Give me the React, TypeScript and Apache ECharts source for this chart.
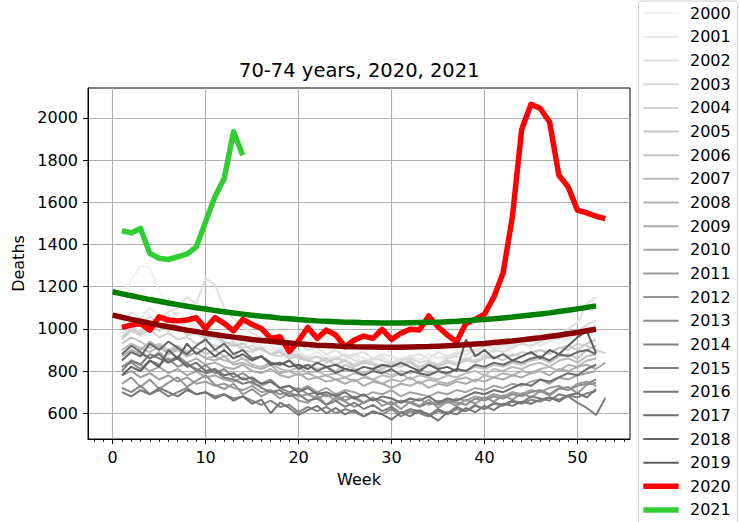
import React, { useEffect, useRef } from 'react';
import * as echarts from 'echarts';

const FONT = "'DejaVu Sans', 'Liberation Sans', sans-serif";
const TITLE = '70-74 years, 2020, 2021';
const X_NAME = 'Week';
const Y_NAME = 'Deaths';
const X_TICKS = [0, 10, 20, 30, 40, 50];
const Y_TICKS = [600, 800, 1000, 1200, 1400, 1600, 1800, 2000];

const GREY_YEARS = ['2000', '2001', '2002', '2003', '2004', '2005', '2006', '2007', '2008', '2009',
  '2010', '2011', '2012', '2013', '2014', '2015', '2016', '2017', '2018', '2019'];
const GREY_COLORS = ['#f0f0f0', '#e8e8e8', '#e0e0e0', '#d9d9d9', '#d1d1d1', '#c9c9c9', '#c2c2c2', '#bababa',
  '#b2b2b2', '#ababab', '#a3a3a3', '#9b9b9b', '#949494', '#8c8c8c', '#848484', '#7d7d7d', '#757575',
  '#6d6d6d', '#666666', '#5e5e5e'];
const YEAR_2020 = '2020';
const YEAR_2021 = '2021';
const COLOR_2020 = '#ff0000';
const COLOR_2021 = '#32cd32';

const Y2000 = [1150, 1230, 1300, 1290, 1180, 1100, 1060, 1030, 1010, 990, 980, 960, 950, 970, 930, 920, 900, 910, 880, 890, 870, 860, 880, 850, 860, 870, 840, 850, 860, 830, 850, 840, 860, 850, 870, 860, 880, 870, 900, 890, 910, 900, 920, 930, 910, 940, 950, 930, 960, 980, 1000, 1020];
const Y2001 = [1020, 1080, 1050, 1100, 1060, 1040, 1010, 1030, 980, 1000, 960, 950, 970, 930, 940, 910, 920, 890, 900, 880, 870, 890, 860, 870, 850, 880, 860, 850, 870, 840, 860, 870, 850, 880, 860, 870, 890, 880, 900, 910, 890, 920, 910, 930, 950, 920, 940, 960, 950, 980, 1010, 990];
const Y2002 = [980, 1010, 990, 1030, 1050, 1080, 1100, 1150, 1120, 1240, 1210, 1100, 1050, 1010, 980, 960, 940, 950, 920, 930, 900, 910, 880, 900, 870, 880, 890, 860, 880, 870, 850, 870, 880, 860, 890, 870, 880, 900, 890, 920, 910, 930, 920, 950, 940, 960, 980, 970, 1000, 1030, 1120, 1150];
const Y2003 = [1000, 1040, 1010, 1060, 1020, 990, 1010, 970, 980, 950, 960, 930, 940, 910, 920, 900, 880, 900, 870, 880, 860, 870, 850, 860, 880, 850, 840, 860, 850, 830, 850, 860, 840, 850, 830, 860, 870, 850, 880, 870, 900, 890, 910, 930, 920, 940, 960, 950, 980, 990, 1020, 1040];
const Y2004 = [950, 990, 970, 1000, 960, 980, 950, 960, 930, 940, 920, 910, 930, 900, 890, 910, 880, 870, 890, 860, 850, 870, 840, 860, 850, 830, 850, 840, 820, 840, 830, 850, 820, 840, 830, 850, 840, 860, 850, 870, 860, 880, 870, 890, 880, 900, 890, 910, 900, 930, 920, 900, 885];
const Y2005 = [960, 1000, 980, 1020, 990, 1040, 1010, 980, 1000, 960, 970, 940, 920, 930, 900, 910, 880, 890, 860, 870, 850, 840, 860, 830, 850, 820, 840, 830, 810, 830, 820, 840, 810, 830, 820, 840, 830, 850, 840, 860, 870, 850, 880, 870, 890, 900, 880, 910, 920, 900, 930, 950];
const Y2006 = [930, 960, 940, 910, 930, 900, 920, 890, 910, 880, 900, 870, 880, 860, 850, 870, 840, 830, 850, 820, 830, 810, 820, 800, 830, 810, 790, 810, 800, 780, 800, 790, 810, 790, 800, 780, 810, 800, 820, 810, 830, 820, 840, 830, 850, 860, 840, 870, 880, 860, 900, 920];
const Y2007 = [900, 930, 910, 890, 920, 880, 900, 870, 890, 860, 870, 850, 840, 860, 830, 820, 840, 810, 800, 820, 790, 800, 780, 790, 770, 790, 780, 760, 780, 770, 790, 760, 780, 770, 760, 780, 770, 790, 800, 780, 810, 800, 820, 810, 830, 840, 820, 850, 860, 840, 870, 880];
const Y2008 = [880, 920, 900, 940, 910, 890, 910, 870, 890, 860, 850, 870, 830, 840, 820, 810, 830, 790, 800, 780, 790, 770, 780, 760, 770, 750, 770, 760, 740, 760, 750, 770, 740, 760, 750, 740, 760, 770, 750, 780, 770, 790, 780, 800, 790, 810, 820, 800, 830, 820, 850, 860];
const Y2009 = [870, 900, 880, 860, 890, 850, 870, 840, 860, 830, 840, 820, 810, 830, 800, 790, 810, 780, 770, 790, 760, 770, 750, 760, 740, 760, 730, 750, 740, 720, 740, 730, 750, 720, 740, 730, 750, 740, 760, 750, 770, 760, 780, 770, 790, 800, 780, 810, 800, 820, 830, 810, 840];
const Y2010 = [820, 850, 830, 800, 820, 790, 810, 780, 800, 770, 780, 760, 750, 770, 740, 730, 750, 720, 730, 710, 730, 700, 720, 690, 710, 700, 680, 700, 690, 710, 680, 700, 690, 680, 700, 690, 710, 700, 720, 710, 730, 720, 740, 730, 750, 760, 740, 770, 760, 780, 790, 800];
const Y2011 = [780, 800, 770, 790, 760, 780, 750, 770, 740, 750, 730, 740, 720, 710, 730, 700, 710, 690, 700, 680, 690, 670, 690, 660, 680, 670, 650, 670, 660, 640, 660, 650, 670, 640, 660, 650, 670, 660, 680, 670, 690, 680, 700, 690, 710, 700, 720, 730, 710, 740, 750, 730];
const Y2012 = [740, 770, 725, 760, 715, 745, 770, 725, 755, 780, 735, 715, 740, 690, 715, 680, 705, 670, 695, 660, 650, 685, 640, 675, 655, 630, 650, 675, 635, 655, 620, 655, 635, 665, 625, 655, 635, 665, 645, 675, 655, 685, 665, 695, 675, 705, 685, 715, 725, 695, 735, 745];
const Y2013 = [820, 840, 810, 850, 830, 860, 820, 840, 800, 830, 790, 810, 770, 790, 760, 740, 760, 720, 700, 720, 690, 700, 680, 690, 660, 680, 650, 670, 660, 640, 660, 650, 630, 650, 640, 660, 650, 640, 670, 660, 680, 670, 690, 680, 700, 710, 690, 720, 710, 730, 740, 760];
const Y2014 = [720, 700, 730, 690, 710, 680, 700, 720, 690, 700, 680, 690, 670, 680, 660, 640, 660, 630, 640, 605, 630, 610, 630, 600, 620, 605, 585, 610, 595, 620, 585, 610, 600, 585, 610, 595, 620, 610, 635, 620, 645, 635, 655, 645, 665, 655, 675, 665, 685, 675, 695, 705];
const Y2015 = [800, 850, 830, 880, 860, 840, 870, 830, 810, 790, 800, 770, 760, 740, 750, 720, 700, 710, 680, 690, 660, 670, 640, 660, 630, 650, 620, 640, 610, 630, 600, 620, 610, 590, 620, 600, 630, 610, 640, 620, 650, 640, 660, 650, 680, 670, 660, 690, 680, 650, 625, 592, 672];
const Y2016 = [700, 680, 710, 690, 720, 700, 680, 710, 690, 700, 670, 690, 660, 680, 645, 665, 600, 650, 625, 592, 615, 635, 600, 625, 595, 615, 585, 605, 595, 570, 605, 585, 615, 595, 565, 605, 595, 625, 605, 635, 615, 645, 635, 655, 645, 665, 675, 655, 685, 695, 675, 715];
const Y2017 = [880, 920, 890, 860, 880, 840, 860, 820, 840, 800, 810, 780, 790, 760, 770, 740, 750, 720, 730, 700, 720, 690, 700, 680, 700, 670, 690, 660, 680, 670, 650, 670, 660, 680, 650, 670, 660, 680, 700, 690, 710, 700, 720, 740, 730, 760, 750, 770, 790, 780, 810, 830];
const Y2018 = [850, 890, 870, 930, 900, 940, 910, 880, 920, 950, 900, 930, 880, 900, 860, 870, 840, 830, 850, 810, 830, 800, 820, 790, 810, 800, 780, 800, 790, 810, 780, 800, 790, 780, 800, 790, 810, 800, 830, 820, 840, 830, 850, 840, 860, 870, 850, 880, 870, 890, 900, 880];
const Y2019 = [780, 820, 800, 850, 820, 900, 860, 930, 880, 910, 870, 900, 860, 880, 850, 870, 830, 840, 820, 830, 810, 840, 820, 830, 810, 800, 820, 810, 830, 820, 840, 820, 800, 830, 810, 820, 800, 950, 870, 900, 860, 880, 850, 870, 890, 860, 900, 880, 920, 960, 990, 885];

const Y2020 = [1007, 1018, 1026, 994, 1057, 1042, 1038, 1042, 1053, 1002, 1053, 1026, 991, 1045, 1021, 1002, 955, 963, 892, 944, 1007, 955, 994, 971, 915, 947, 966, 955, 998, 950, 979, 998, 995, 1061, 1010, 971, 939, 1026, 1045, 1070, 1150, 1265, 1531, 1945, 2065, 2045, 1981, 1729, 1673, 1563, 1550, 1534, 1523];
const Y2021 = [1465, 1455, 1476, 1358, 1335, 1329, 1342, 1354, 1389, 1508, 1626, 1713, 1934, 1823];

// Baseline curves, weeks 0..52
const TREND_GREEN = [1176, 1166, 1157, 1148, 1139, 1131, 1123, 1115, 1107, 1100, 1094, 1087, 1081, 1075, 1070, 1065, 1060, 1056, 1051, 1048, 1044, 1041, 1038, 1036, 1034, 1032, 1031, 1029, 1029, 1028, 1028, 1028, 1029, 1030, 1031, 1032, 1034, 1036, 1039, 1042, 1045, 1048, 1052, 1056, 1061, 1066, 1071, 1076, 1082, 1088, 1095, 1102, 1109];
const TREND_DARKRED = [1065, 1055, 1045, 1036, 1027, 1018, 1010, 1002, 994, 987, 980, 973, 967, 961, 956, 950, 945, 941, 937, 933, 929, 926, 923, 921, 919, 917, 915, 914, 914, 913, 913, 913, 914, 915, 916, 918, 920, 922, 925, 928, 931, 935, 939, 943, 948, 953, 958, 964, 970, 977, 983, 991, 998];

const GREY_VALUES = [Y2000, Y2001, Y2002, Y2003, Y2004, Y2005, Y2006, Y2007, Y2008, Y2009,
  Y2010, Y2011, Y2012, Y2013, Y2014, Y2015, Y2016, Y2017, Y2018, Y2019];

const toPoints = (vals: number[], start: number) => vals.map((v, i) => [i + start, v]);

const X_MIN = -2.65;
const X_MAX = 55.65;
const MINOR_TICKS: number[] = [];
for (let w = -2; w <= 55; w++) MINOR_TICKS.push(w);

function buildLegend() {
  const entries = [
    ...GREY_YEARS.map((y, i) => ({ name: y, color: GREY_COLORS[i], width: 2 })),
    { name: YEAR_2020, color: COLOR_2020, width: 5.5 },
    { name: YEAR_2021, color: COLOR_2021, width: 5.5 },
  ];
  const left = 638.5;
  const top = 1;
  const first = 13.3;
  const step = 23.65;
  const children: any[] = [
    {
      type: 'rect',
      shape: { x: left, y: top, width: 99, height: 540, r: 3 },
      style: { fill: 'rgba(255,255,255,0.8)', stroke: '#cccccc', lineWidth: 1 },
    },
  ];
  entries.forEach((e, i) => {
    const yc = first + step * i;
    children.push({
      type: 'line',
      shape: { x1: 643.3, y1: yc, x2: 678.7, y2: yc },
      style: { stroke: e.color, lineWidth: e.width },
    });
    children.push({
      type: 'text',
      x: 690,
      y: yc,
      style: { text: e.name, font: `16px ${FONT}`, fill: '#000', align: 'left', verticalAlign: 'middle' },
    });
  });
  return [{ type: 'group', children }];
}

export default function App() {
  const ref = useRef<HTMLDivElement>(null);
  useEffect(() => {
    if (!ref.current) return;
    const chart = echarts.init(ref.current, null, { renderer: 'svg' });
    const series: any[] = GREY_VALUES.map((vals, i) => ({
      name: GREY_YEARS[i],
      type: 'line',
      data: toPoints(vals, 1),
      symbol: 'none',
      color: GREY_COLORS[i],
      lineStyle: { width: 2, color: GREY_COLORS[i] },
    }));
    series.push({
      name: YEAR_2020, type: 'line', data: toPoints(Y2020, 1), symbol: 'none', color: COLOR_2020,
      lineStyle: { width: 5.5, color: COLOR_2020, join: 'round' },
    });
    series.push({
      name: YEAR_2021, type: 'line', data: toPoints(Y2021, 1), symbol: 'none', color: COLOR_2021,
      lineStyle: { width: 5.5, color: COLOR_2021, join: 'round' },
    });
    series.push({
      name: 'Baseline A', type: 'line', data: toPoints(TREND_GREEN, 0), symbol: 'none', color: '#008000',
      lineStyle: { width: 5.5, color: '#008000' },
    });
    series.push({
      name: 'Baseline B', type: 'line', data: toPoints(TREND_DARKRED, 0), symbol: 'none', color: '#8b0000',
      lineStyle: { width: 5.5, color: '#8b0000' },
    });

    chart.setOption({
      animation: false,
      backgroundColor: '#ffffff',
      title: {
        text: TITLE,
        left: 239,
        top: 60,
        padding: 0,
        textStyle: { fontFamily: FONT, fontSize: 19.5, fontWeight: 'normal', color: '#000' },
      },
      grid: {
        left: 88, top: 88, right: 110, bottom: 83, containLabel: false,
        show: true, borderColor: '#000', borderWidth: 1, backgroundColor: 'transparent',
      },
      graphic: buildLegend(),
      xAxis: [
        {
          type: 'value', min: X_MIN, max: X_MAX,
          name: X_NAME, nameLocation: 'middle', nameGap: 32,
          nameTextStyle: { fontFamily: FONT, fontSize: 16, color: '#000' },
          axisLine: { show: true, onZero: false, lineStyle: { color: '#000', width: 1 } },
          axisTick: { show: true, customValues: X_TICKS, length: 5, lineStyle: { color: '#000', width: 1 } },
          axisLabel: { customValues: X_TICKS, margin: 10, fontFamily: FONT, fontSize: 16, color: '#000', formatter: (v: number) => String(v) },
          splitLine: { show: true, lineStyle: { color: '#b0b0b0', width: 1.1 } },
        },
        {
          type: 'value', min: X_MIN, max: X_MAX, position: 'bottom', gridIndex: 0,
          axisLine: { show: false, onZero: false },
          axisTick: { show: true, customValues: MINOR_TICKS, length: 2.8, lineStyle: { color: '#000', width: 1 } },
          axisLabel: { show: false },
          splitLine: { show: false },
        },
      ],
      yAxis: {
        type: 'value', min: 478, max: 2142,
        name: Y_NAME, nameLocation: 'middle', nameGap: 59, nameRotate: 90,
        nameTextStyle: { fontFamily: FONT, fontSize: 16, color: '#000' },
        axisLine: { show: true, onZero: false, lineStyle: { color: '#000', width: 1 } },
        axisTick: { show: true, customValues: Y_TICKS, length: 5, lineStyle: { color: '#000', width: 1 } },
        axisLabel: { customValues: Y_TICKS, margin: 10, fontFamily: FONT, fontSize: 16, color: '#000', formatter: (v: number) => String(v) },
        splitLine: { show: true, lineStyle: { color: '#b0b0b0', width: 1.1 } },
      },
      series,
    });
    return () => chart.dispose();
  }, []);
  return <div ref={ref} style={{ position: 'fixed', left: 0, top: 0, width: 740, height: 522 }} />;
}
